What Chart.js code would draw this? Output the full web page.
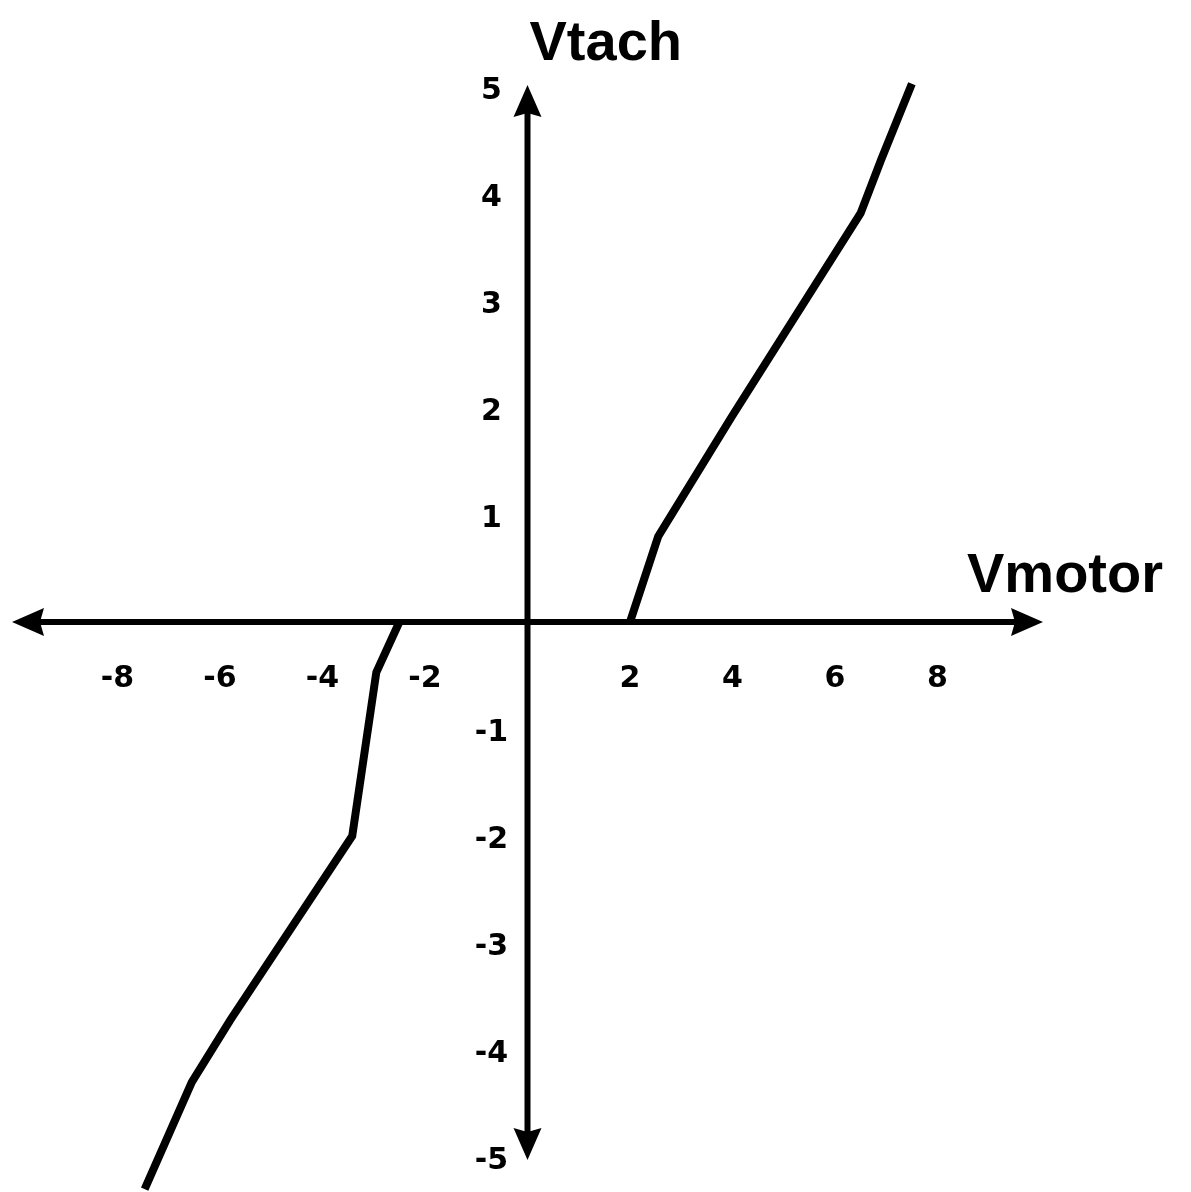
<!DOCTYPE html>
<html>
<head>
<meta charset="utf-8">
<script src="https://cdn.jsdelivr.net/npm/chart.js@4"></script>
<style>
  html, body { margin: 0; padding: 0; background: #fff; }
  #wrap { width: 1191px; height: 1192px; position: relative; }
</style>
</head>
<body>
<div id="wrap"><canvas id="tachChart"></canvas></div>
<script>
// curve (Vmotor -> Vtach)
const rightVmotor = [2.0, 2.55, 4.0, 6.5, 6.9, 7.5];
const rightVtach  = [0, 0.8, 1.93, 3.82, 4.32, 5.03];
const leftVmotor  = [-2.5, -2.95, -3.42, -5.8, -6.55, -7.47];
const leftVtach   = [0, -0.47, -2.0, -3.72, -4.3, -5.3];

const xTicks = [-8, -6, -4, -2, 2, 4, 6, 8];
const yTicks = [5, 4, 3, 2, 1, -1, -2, -3, -4, -5];

const xTitle = 'Vmotor';
const yTitle = 'Vtach';

function toPoints(xs, ys) {
    return xs.map((x, i) => ({ x: x, y: ys[i] }));
}

function arrowHead(ctx, tipX, tipY, dx, dy) {
    // dx, dy = unit direction the arrow points to
    const len = 32, half = 14;
    const bx = tipX - dx * len, by = tipY - dy * len;
    ctx.beginPath();
    ctx.moveTo(tipX, tipY);
    ctx.lineTo(bx - dy * half, by + dx * half);
    ctx.lineTo(bx + dx * 4, by + dy * 4);
    ctx.lineTo(bx + dy * half, by - dx * half);
    ctx.closePath();
    ctx.fill();
}

// draws the crossed axes, arrows, tick labels and titles
const crossAxes = {
    id: 'crossAxes',
    beforeDatasetsDraw(chart) {
        const ctx = chart.ctx;
        const xs = chart.scales.x, ys = chart.scales.y;
        const x0 = xs.getPixelForValue(0), y0 = ys.getPixelForValue(0);
        const left = xs.getPixelForValue(-10) - 3, right = xs.getPixelForValue(10) + 3;
        const top = ys.getPixelForValue(5) - 2, bottom = ys.getPixelForValue(-5) + 3;

        ctx.save();
        ctx.strokeStyle = '#000';
        ctx.fillStyle = '#000';
        ctx.lineWidth = 6;
        ctx.lineCap = 'butt';

        ctx.beginPath();
        ctx.moveTo(left + 20, y0);
        ctx.lineTo(right - 20, y0);
        ctx.moveTo(x0, top + 20);
        ctx.lineTo(x0, bottom - 20);
        ctx.stroke();

        arrowHead(ctx, left, y0, -1, 0);
        arrowHead(ctx, right, y0, 1, 0);
        arrowHead(ctx, x0, top, 0, -1);
        arrowHead(ctx, x0, bottom, 0, 1);

        ctx.font = "bold 30px 'DejaVu Sans'";
        ctx.textAlign = 'center';
        ctx.textBaseline = 'middle';
        xTicks.forEach(v => {
            ctx.fillText(String(v), xs.getPixelForValue(v), y0 + 57);
        });
        yTicks.forEach(v => {
            ctx.fillText(String(v), x0 - 36, ys.getPixelForValue(v) + 4);
        });

        ctx.font = "bold 56px 'Liberation Sans'";
        ctx.textAlign = 'left';
        ctx.textBaseline = 'alphabetic';
        ctx.fillText(yTitle, x0 + 2, 60);
        ctx.fillText(xTitle, 967, y0 - 30);
        ctx.restore();
    }
};

const ctx = document.getElementById('tachChart').getContext('2d');
const tachChart = new Chart(ctx, {
    type: 'scatter',
    data: {
        datasets: [{
            label: 'Vtach (positive)',
            data: toPoints(rightVmotor, rightVtach),
            showLine: true,
            borderColor: '#000',
            borderWidth: 8,
            pointRadius: 0,
            tension: 0,
            clip: false
        }, {
            label: 'Vtach (negative)',
            data: toPoints(leftVmotor, leftVtach),
            showLine: true,
            borderColor: '#000',
            borderWidth: 8,
            pointRadius: 0,
            tension: 0,
            clip: false
        }]
    },
    options: {
        responsive: true,
        maintainAspectRatio: false,
        animation: false,
        layout: {
            padding: { left: 15, right: 151, top: 87, bottom: 35 }
        },
        scales: {
            x: { type: 'linear', min: -10, max: 10, display: false },
            y: { type: 'linear', min: -5, max: 5, display: false }
        },
        plugins: {
            legend: { display: false },
            tooltip: { enabled: false }
        }
    },
    plugins: [crossAxes]
});
</script>
</body>
</html>
